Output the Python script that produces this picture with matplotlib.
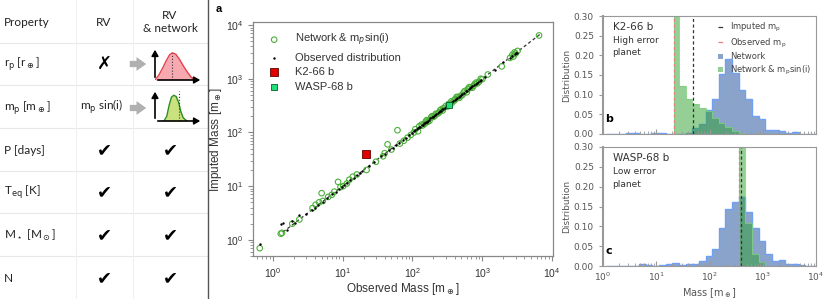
import numpy as np
import matplotlib
matplotlib.use('Agg')
import matplotlib.pyplot as plt
from matplotlib.lines import Line2D
from matplotlib.patches import Patch
from matplotlib.ticker import FormatStrFormatter

W, H = 831, 299

# ---- table (left panel) ----
row_labels = ['r$_\\mathrm{p}$ [r$_\\oplus$]', 'm$_\\mathrm{p}$ [m$_\\oplus$]', 'P [days]',
              'T$_\\mathrm{eq}$ [K]', 'M$_\\star$ [M$_\\odot$]', 'N']
rv_col = ['\u2717', 'm$_\\mathrm{p}$ sin(i)', '\u2714', '\u2714', '\u2714', '\u2714']
net_col = ['', '', '\u2714', '\u2714', '\u2714', '\u2714']

# schematic distributions in the table
red_x = [0.0, 0.08, 0.16, 0.24, 0.31, 0.37, 0.44, 0.52, 0.60, 0.68, 0.76, 0.85]
red_y = [0.0, 0.15, 0.36, 0.60, 0.78, 0.84, 0.80, 0.64, 0.44, 0.26, 0.10, 0.0]
grn_x = [0.19, 0.25, 0.30, 0.35, 0.40, 0.45, 0.50, 0.55, 0.60, 0.68]
grn_y = [0.0, 0.15, 0.50, 0.76, 0.82, 0.78, 0.60, 0.30, 0.10, 0.0]

# ---- panel a ----
net_obs = [0.65, 1.3, 1.35, 1.9, 2.4, 3.7, 4.1, 4.6, 5.0, 5.2, 6.2, 7.0, 7.6, 8.6, 9.3,
           10.2, 11.5, 12.5, 14.0, 16.0, 22, 30, 38, 40, 44, 50, 61, 66, 75, 85, 95,
           110, 120, 135, 150, 160, 175, 190, 210, 230, 250, 270, 300, 320, 360, 400,
           430, 470, 520, 560, 600, 650, 720, 780, 850, 950, 1200, 1900, 2800, 3000,
           3200, 6500,
           105, 125, 140, 155, 165, 185, 200, 215, 240, 260, 280, 330, 345, 370, 410,
           450, 490, 540, 620, 680, 750, 820, 900, 1000, 2500, 2700, 2900]
net_imp = [0.7, 1.3, 1.35, 2.0, 2.4, 3.9, 4.5, 5.0, 7.4, 5.3, 6.3, 6.9, 7.9, 12.0, 9.6,
           10.0, 11.2, 13.2, 15.0, 16.5, 20, 28.5, 36, 41, 60, 48, 110, 62, 70, 80, 90,
           115, 105, 140, 145, 170, 165, 200, 205, 225, 260, 255, 310, 305, 380, 395,
           460, 440, 500, 590, 560, 700, 680, 800, 820, 1000, 1200, 1700, 2600, 2950,
           3300, 6400,
           100, 130, 135, 160, 158, 190, 195, 222, 235, 270, 285, 340, 335, 360, 420,
           455, 480, 550, 640, 690, 740, 850, 880, 980, 2450, 2800, 3100]
dist_obs = [0.65, 1.3, 1.4, 1.9, 2.4, 1.6, 2.1, 3.0, 3.6, 4.0, 4.5, 5.2, 6.0, 7.0, 8.0,
            9.0, 9.8, 10.5, 11.5, 12.8, 14.5, 16.0, 17.5, 19.0, 24, 28, 36, 40, 46, 52,
            58, 64, 72, 80, 90, 100, 115, 130, 145, 160, 180, 200, 220, 240, 265, 290,
            320, 350, 380, 420, 460, 500, 550, 600, 660, 720, 800, 880, 960, 1100, 1500,
            2000, 2500, 2900, 3100,
            105, 110, 120, 125, 135, 140, 150, 155, 165, 170, 190, 205, 210, 230, 250,
            255, 275, 300, 310, 330, 340, 365, 400, 440, 480, 520, 580, 640, 700, 760,
            840, 920, 2700, 3000]
dist_imp = [0.85, 2.0, 2.05, 2.25, 2.95, 1.55, 2.05, 3.0, 3.55, 4.0, 4.5, 5.1, 6.0, 7.1, 7.9,
            9.0, 9.7, 10.6, 11.4, 12.9, 14.4, 16.2, 17.3, 19.2, 24, 28, 36.5, 39, 47, 51,
            59, 63, 73, 80, 91, 99, 116, 128, 147, 158, 182, 198, 222, 238, 268, 288,
            322, 348, 383, 418, 462, 497, 553, 598, 662, 718, 803, 876, 965, 1090, 1480,
            2010, 2480, 2920, 3080,
            106, 111, 121, 124, 136, 139, 151, 156, 166, 169, 191, 206, 209, 231, 251,
            254, 276, 301, 309, 331, 339, 366, 401, 439, 481, 521, 579, 641, 701, 759,
            841, 919, 2690, 3010]
k2_obs, k2_imp = 21.3, 40.5
wasp_obs, wasp_imp = 330, 330
one_to_one = [1.4, 7000]

# ---- panels b, c: histograms on common log bins (exponents) ----
bin_exp = 0.05 + 0.125 * np.arange(33)
blue_b = [0, 0, 0, 0.003, 0.003, 0, 0, 0.002, 0.002, 0, 0.001, 0.001, 0.002, 0.016, 0.026,
          0.060, 0.088, 0.152, 0.190, 0.156, 0.112, 0.088, 0.045, 0.038, 0.011, 0.009,
          0.008, 0.003, 0.004, 0.001, 0, 0]
green_b_exp = [1.335, 1.425, 1.55, 1.675, 1.80, 1.925, 2.05, 2.175, 2.30, 2.425, 2.55, 2.675]
green_b = [0.5, 0.122, 0.088, 0.076, 0.066, 0.059, 0.040, 0.029, 0.017, 0.008, 0.003]
blue_c = [0, 0, 0, 0, 0.001, 0.004, 0.002, 0.001, 0.003, 0.006, 0.007, 0.002, 0.004, 0.005,
          0.013, 0.024, 0.042, 0.097, 0.144, 0.161, 0.173, 0.137, 0.097, 0.063, 0.029,
          0.013, 0.016, 0.006, 0.006, 0.002, 0, 0]
green_c_exp = [2.55, 2.675, 2.80, 2.925, 3.05]
green_c = [0.5, 0.108, 0.030, 0.011]
k2_imputed, k2_observed = 49, 21.6
wasp_imputed, wasp_observed = 389, 363


def box(x0, y0, x1, y1):
    return [x0 / W, 1 - y1 / H, (x1 - x0) / W, (y1 - y0) / H]


fig = plt.figure(figsize=(W / 100, H / 100), dpi=100)

# table drawn in pixel coordinates
ax_t = fig.add_axes([0, 0, 1, 1])
ax_t.set_xlim(0, W)
ax_t.set_ylim(H, 0)
ax_t.axis('off')
for y in [43, 85, 128, 171, 213, 256]:
    ax_t.plot([0, 207], [y, y], color='#e8e8e8', lw=0.8)
for x in [76, 133]:
    ax_t.plot([x, x], [0, H], color='#f0f0f0', lw=0.8)
ax_t.plot([208, 208], [0, H], color='#555555', lw=1)

tfont = ['Lato', 'DejaVu Sans']
tsize = 8.5
ax_t.text(4, 22, 'Property', fontsize=tsize, family=tfont, va='center', color='#222')
ax_t.text(104, 22, 'RV', fontsize=tsize, family=tfont, va='center', ha='center', color='#222')
ax_t.text(170, 22, 'RV\n& network', fontsize=tsize, family=tfont, va='center', ha='center',
          color='#222', linespacing=1.3)
row_y = [64, 107, 150, 192, 235, 278]
for lab, rv, nw, y in zip(row_labels, rv_col, net_col, row_y):
    ax_t.text(4, y, lab, fontsize=tsize, family=tfont, va='center', color='#222')
    if rv.startswith('m'):
        ax_t.text(102, y, rv, fontsize=tsize, family=tfont, va='center', ha='center', color='#222')
    else:
        ax_t.text(104, y, rv, fontsize=13, family='DejaVu Sans', va='center', ha='center',
                  color='black', fontweight='bold')
    if nw:
        ax_t.text(170, y, nw, fontsize=13, family='DejaVu Sans', va='center', ha='center',
                  color='black')

arrow_kw = dict(arrowstyle='simple,head_length=0.7,head_width=1.0,tail_width=0.45',
                color='#b0b0b0', mutation_scale=10, lw=0)
ax_t.annotate('', xy=(149, 64), xytext=(127, 64), arrowprops=arrow_kw)
ax_t.annotate('', xy=(149, 108), xytext=(127, 108), arrowprops=arrow_kw)


def mini_axes(rect, xs, ys, line_c, fill_c, xline, ytop):
    m = fig.add_axes(rect)
    m.set_xlim(0, 1.02)
    m.set_ylim(0, 1.02)
    m.axis('off')
    m.fill_between(xs, ys, color=fill_c, lw=0)
    m.plot(xs, ys, color=line_c, lw=1)
    m.plot([xline, xline], [0, ytop], color='#333', lw=0.8, ls=':')
    ak = dict(arrowstyle='-|>,head_length=0.35,head_width=0.2', color='black', lw=1.2)
    m.annotate('', xy=(1.02, 0), xytext=(0, 0), xycoords='data', arrowprops=ak)
    m.annotate('', xy=(0, 1.02), xytext=(0, 0), xycoords='data', arrowprops=ak)
    return m


mini_axes(box(155, 47, 203, 80), red_x, red_y, '#e8404a', '#f7a9b2', 0.37, 0.84)
mini_axes(box(155, 89, 203, 121), grn_x, grn_y, '#2e8b22', '#c9e27e', 0.51, 0.97)

# ---- panel a ----
afont = 'Liberation Sans'
ax_a = fig.add_axes(box(253, 22, 553, 256))
ax_a.set_xscale('log')
ax_a.set_yscale('log')
ax_a.plot(one_to_one, one_to_one, color='#333', ls='--', lw=0.9, dashes=(2.5, 2), zorder=1)
ax_a.scatter(net_obs, net_imp, s=16, facecolor='none', edgecolor='#4caf3a', lw=0.8,
             zorder=2, label='Network & m$_p$sin(i)')
ax_a.scatter(dist_obs, dist_imp, s=3, color='black', lw=0, zorder=3,
             label='Observed distribution')
ax_a.scatter([k2_obs], [k2_imp], s=26, marker='s', color='#e00000', edgecolor='#600000',
             lw=0.6, zorder=4, label='K2-66 b')
ax_a.scatter([wasp_obs], [wasp_imp], s=22, marker='s', color='#20e07a', edgecolor='#0a5a2a',
             lw=0.6, zorder=4, label='WASP-68 b')
ax_a.set_xlim(0.52, 1.03e4)
ax_a.set_ylim(0.5, 1.14e4)
for s in ax_a.spines.values():
    s.set_color('#888')
    s.set_linewidth(0.9)
ax_a.tick_params(which='both', colors='#888', labelcolor='#333', labelsize=7.5)
for t in ax_a.get_xticklabels() + ax_a.get_yticklabels():
    t.set_family(afont)
ax_a.set_xlabel('Observed Mass [m$_\\oplus$]', fontsize=8.5, family=afont, color='#333', labelpad=1)
ax_a.set_ylabel('Imputed Mass [m$_\\oplus$]', fontsize=8.5, family=afont, color='#333', labelpad=1)
leg = ax_a.legend(loc='upper left', bbox_to_anchor=(0.015, 1.0), frameon=False,
                  prop={'family': afont, 'size': 8}, handletextpad=1.3, labelspacing=0.4,
                  handlelength=1.2, markerscale=1.0)
for t in leg.get_texts():
    t.set_color('#333')
fig.text(216 / W, 1 - 9 / H, 'a', fontsize=8, fontweight='bold', family=afont, va='center')

# ---- panels b, c ----
def hist_panel(rect, blue, gexp, green, imputed, observed, name, sub, letter, last):
    ax = fig.add_axes(rect)
    ax.set_xscale('log')
    edges = 10 ** bin_exp
    ax.stairs(blue, edges, fill=True, color='#4c72b0', alpha=0.65, lw=0)
    ax.stairs(blue, edges, fill=False, color='#6fa0f5', lw=1.0)
    ax.stairs(green, 10 ** np.array(gexp), fill=True, color='#2ca02c', alpha=0.5, lw=0)
    ax.stairs(green, 10 ** np.array(gexp), fill=False, color='#7ccf7c', lw=0.8, alpha=0.8)
    ax.axvline(observed, color='#e08080', ls='--', lw=0.9, dashes=(2.5, 2))
    ax.axvline(imputed, color='#333', ls='--', lw=0.9, dashes=(2.5, 2))
    ax.set_xlim(1, 1e4)
    ax.set_ylim(0, 0.30)
    ax.set_yticks(np.arange(0, 0.31, 0.05))
    ax.yaxis.set_major_formatter(FormatStrFormatter('%.2f'))
    for s in ax.spines.values():
        s.set_color('#999')
        s.set_linewidth(0.8)
    ax.spines['left'].set_linewidth(1.5)
    ax.tick_params(axis='y', which='both', colors='#999', labelcolor='#555', labelsize=6.5,
                   length=3)
    ax.tick_params(axis='x', which='both', direction='in', colors='#999', labelcolor='#555',
                   labelsize=6.5)
    ax.set_ylabel('Distribution', fontsize=6.5, color='#555', labelpad=2)
    ax.text(0.045, 0.91, name, transform=ax.transAxes, fontsize=7.5, color='#333', va='center')
    ax.text(0.045, 0.74, sub, transform=ax.transAxes, fontsize=6.5, color='#333', va='center',
            linespacing=1.5)
    ax.text(0.012, 0.13, letter, transform=ax.transAxes, fontsize=8, fontweight='bold',
            color='black', va='center')
    if last:
        ax.set_xlabel('Mass [m$_\\oplus$]', fontsize=7, color='#555', labelpad=2)
    else:
        ax.tick_params(axis='x', labelbottom=False)
    return ax


ax_b = hist_panel(box(603, 16, 816, 134), blue_b, green_b_exp, green_b, k2_imputed,
                  k2_observed, 'K2-66 b', 'High error\nplanet', 'b', False)
ax_c = hist_panel(box(603, 147, 816, 266), blue_c, green_c_exp, green_c, wasp_imputed,
                  wasp_observed, 'WASP-68 b', 'Low error\nplanet', 'c', True)

handles = [Line2D([], [], color='#333', ls='--', lw=0.9),
           Line2D([], [], color='#e08080', ls='--', lw=0.9),
           Patch(facecolor='#4c72b0', alpha=0.65),
           Patch(facecolor='#2ca02c', alpha=0.5)]
labels = ['Imputed m$_\\mathrm{p}$', 'Observed m$_\\mathrm{p}$', 'Network',
          'Network & m$_\\mathrm{p}$sin(i)']
lb = ax_b.legend(handles, labels, loc='upper right', frameon=False, fontsize=6,
                 handlelength=0.6, handleheight=0.6, handletextpad=0.8, labelspacing=0.3,
                 borderaxespad=0.2)
for t in lb.get_texts():
    t.set_color('#444')

fig.savefig('out.png', dpi=100)
